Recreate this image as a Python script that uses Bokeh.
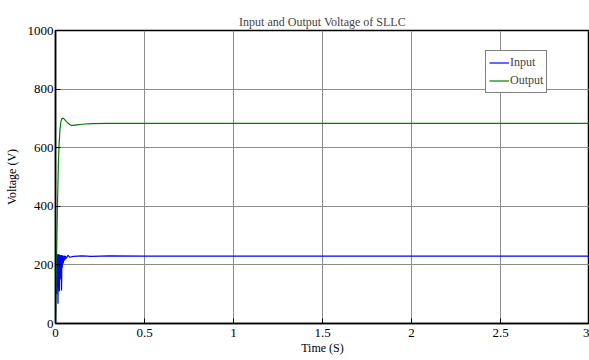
from bokeh.plotting import figure
from bokeh.embed import file_html
from bokeh.resources import INLINE
from bokeh.models import Range1d, FixedTicker, Legend, LegendItem

# Data
t_out = [0, 0.004, 0.008, 0.012, 0.016, 0.02, 0.025, 0.03, 0.035, 0.04, 0.045, 0.05,
         0.06, 0.07, 0.08, 0.09, 0.1, 0.12, 0.15, 0.2, 0.3, 0.5, 1.0, 2.0, 3.0]
v_out = [0, 150, 300, 430, 540, 610, 660, 688, 698, 701, 700, 697,
         690, 684, 679, 676, 676, 678, 680, 682, 683, 683, 683, 683, 683]

t_in = [0, 0.002, 0.004, 0.006, 0.008, 0.010, 0.012, 0.014, 0.016, 0.018, 0.020,
        0.022, 0.024, 0.026, 0.028, 0.030, 0.032, 0.034, 0.036, 0.038, 0.040,
        0.044, 0.048, 0.052, 0.056, 0.06, 0.07, 0.08, 0.1, 0.15, 0.2, 0.3, 0.5,
        0.8, 1.0, 2.0, 3.0]
v_in = [0, 235, 150, 100, 236, 140, 236, 67, 236, 120, 236,
        110, 234, 150, 234, 180, 234, 113, 233, 190, 232,
        205, 232, 215, 231, 222, 233, 226, 229, 231, 229, 231, 230,
        230, 230, 230, 230]

x_ticks = [0, 0.5, 1, 1.5, 2, 2.5, 3]
y_ticks = [0, 200, 400, 600, 800, 1000]

SERIF = "Liberation Serif"

p = figure(width=589, height=360, output_backend="svg", toolbar_location=None,
           x_range=Range1d(0, 3.0), y_range=Range1d(0, 1000),
           min_border_left=55, min_border_right=0, min_border_top=30, min_border_bottom=37)

p.title.text = "Input and Output Voltage of SLLC"
p.title.align = "center"
p.title.text_font = SERIF
p.title.text_font_style = "normal"
p.title.text_font_size = "12px"
p.title.offset = 0
p.title.standoff = 4

p.outline_line_color = "black"
p.outline_line_width = 1.5

p.xaxis.ticker = FixedTicker(ticks=x_ticks)
p.yaxis.ticker = FixedTicker(ticks=y_ticks)
p.axis.major_tick_in = 5
p.axis.major_tick_out = 0
p.axis.minor_tick_in = 0
p.axis.minor_tick_out = 0
p.axis.axis_line_color = "black"
p.axis.axis_line_width = 1.5
p.axis.major_label_text_font = SERIF
p.axis.major_label_text_font_size = "13px"
p.axis.major_label_text_color = "black"
p.axis.axis_label_text_font = SERIF
p.axis.axis_label_text_font_style = "normal"
p.axis.axis_label_text_font_size = "12px"
p.axis.axis_label_text_color = "black"

p.xaxis.axis_label = "Time (S)"
p.yaxis.axis_label = "Voltage (V)"
p.xaxis.major_label_standoff = 5
p.xaxis.axis_label_standoff = 1
p.yaxis.major_label_standoff = 2
p.yaxis.axis_label_standoff = 6

p.xgrid.ticker = FixedTicker(ticks=x_ticks)
p.ygrid.ticker = FixedTicker(ticks=y_ticks)
p.grid.grid_line_color = "#8c8c8c"
p.grid.grid_line_width = 1

r_in = p.line(t_in, v_in, line_color="#0000ff", line_width=1.2)
r_out = p.line(t_out, v_out, line_color="#008000", line_width=1.2)

legend = Legend(items=[LegendItem(label="Input", renderers=[r_in]),
                       LegendItem(label="Output", renderers=[r_out])],
                location=(430, 230))
legend.label_text_font = SERIF
legend.label_text_font_size = "12px"
legend.border_line_color = "black"
legend.border_line_width = 1
legend.background_fill_alpha = 1
legend.padding = 3
legend.spacing = 1
legend.margin = 0
legend.glyph_width = 20
legend.glyph_height = 17
legend.label_height = 17
legend.label_standoff = 1
p.add_layout(legend)

open("out.html", "w").write(file_html(p, INLINE))
